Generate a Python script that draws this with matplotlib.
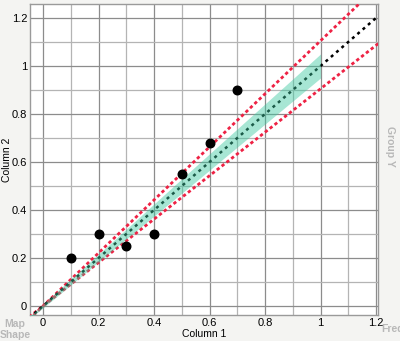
import matplotlib.pyplot as plt
import numpy as np

plt.rcParams['font.family'] = ['Liberation Sans', 'DejaVu Sans']

# data points
col1 = [0.1, 0.2, 0.3, 0.4, 0.5, 0.6, 0.7]
col2 = [0.2, 0.3, 0.25, 0.3, 0.55, 0.68, 0.9]

# fit line and bands
fit_x = [-0.05, 1.25]
fit_y = [-0.05, 1.25]
band_x = [-0.05, 0.0, 0.25, 0.5, 0.75, 1.0]
band_lo = [-0.055, -0.008, 0.232, 0.47, 0.71, 0.95]
band_hi = [-0.045, 0.008, 0.268, 0.53, 0.79, 1.05]
ci_slopes = [1.105, 0.905]

fig = plt.figure(figsize=(4.0, 3.41), dpi=100)
fig.patch.set_facecolor('#f4f4f2')
ax = fig.add_axes([0.075, 0.0762, 0.87, 0.912])
ax.set_facecolor('white')

ax.set_xlim(-0.047, 1.207)
ax.set_ylim(-0.0375, 1.258)

ax.set_xticks(np.arange(0, 1.21, 0.2))
ax.set_yticks(np.arange(0, 1.21, 0.2))
ax.set_xticks(np.arange(0.1, 1.21, 0.2), minor=True)
ax.set_yticks(np.arange(0.1, 1.21, 0.2), minor=True)
ax.set_xticklabels(['0', '0.2', '0.4', '0.6', '0.8', '1', '1.2'])
ax.set_yticklabels(['0', '0.2', '0.4', '0.6', '0.8', '1', '1.2'])
ax.grid(which='major', color='#8c8c8c', linewidth=0.9)
ax.grid(which='minor', color='#b4b4b4', linewidth=0.9)
ax.tick_params(which='major', length=0, labelsize=8, pad=2)
ax.tick_params(which='minor', length=0)
ax.set_axisbelow(True)
for s in ax.spines.values():
    s.set_color('#9a9a9a')
    s.set_linewidth(1.0)

t = np.array([-0.05, 1.25])
for k in ci_slopes:
    ax.plot(t, k * t, color='#ee2244', linestyle=(0, (1.2, 1.0)), linewidth=2.0, zorder=3)
ax.plot(fit_x, fit_y, color='black', linestyle=(0, (1.2, 1.6)), linewidth=1.8, zorder=3)
ax.fill_between(band_x, band_lo, band_hi, color='#3cc9a0', alpha=0.45, linewidth=0, zorder=4)
ax.scatter(col1, col2, s=38, color='black', zorder=5)

ax.set_xlabel('Column 1', fontsize=7.5)
ax.set_ylabel('Column 2', fontsize=7.5)
ax.xaxis.set_label_coords(0.5, -0.045)
ax.yaxis.set_label_coords(-0.052, 0.5)

fig.text(0.0375, 0.033, 'Map\nShape', color='#b8b8b8', fontsize=7.5, fontweight='bold',
         ha='center', va='center', linespacing=1.1)
fig.text(0.975, 0.57, 'Group Y', color='#b8b8b8', fontsize=7.5, fontweight='bold',
         rotation=-90, ha='center', va='center')
fig.text(0.952, 0.035, 'Freq', color='#b8b8b8', fontsize=7.5, fontweight='bold',
         ha='left', va='center')

plt.savefig('out.png', dpi=100, facecolor=fig.get_facecolor())
